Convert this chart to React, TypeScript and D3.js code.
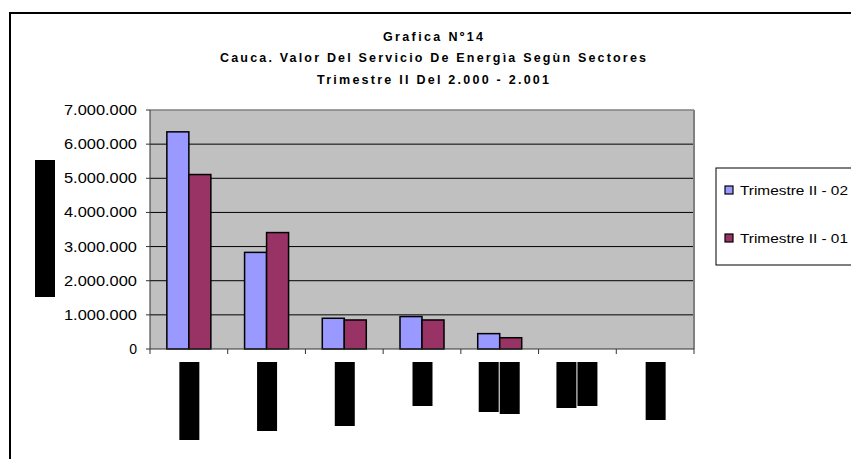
import React from "react";
import * as d3 from "d3";

const categories = ["S1", "S2", "S3", "S4", "S5", "S6", "S7"];
const seriesNames = ["Trimestre II - 02", "Trimestre II - 01"];
const trimestre02 = [6360000, 2830000, 900000, 950000, 450000, 0, 0];
const trimestre01 = [5110000, 3410000, 850000, 850000, 330000, 0, 0];
const yTicks = [0, 1000000, 2000000, 3000000, 4000000, 5000000, 6000000, 7000000];
const titleLines = [
  "Grafica Nº14",
  "Cauca. Valor Del Servicio De Energìa Segùn Sectores",
  "Trimestre II  Del 2.000 - 2.001",
];
// redacted (hidden) category labels: lengths of each rotated text line
const hiddenLabelLines = [[78], [69], [64], [44], [50, 52], [46, 44], [58]];

const colors = ["#9999FF", "#993366"];

export default function App() {
  const W = 851, H = 459;
  const m = { left: 150, right: 694, top: 110, bottom: 349 };
  const x = d3.scaleBand<string>().domain(categories).range([m.left, m.right]).padding(0);
  const y = d3.scaleLinear().domain([0, 7000000]).range([m.bottom, m.top]);
  const barW = 22;
  const fmt = (v: number) => (v === 0 ? "0" : d3.format(",")(v).replace(/,/g, "."));
  const series = [trimestre02, trimestre01];
  const titleWidths = [100, 426, 232];
  const titleY = [41, 62, 84];

  return (
    <svg width={W} height={H} style={{ position: "absolute", left: 0, top: 0, background: "#fff" }}
      fontFamily="'Liberation Sans', Arial, sans-serif">
      <rect x={0} y={0} width={W} height={H} fill="#fff" />
      {/* outer frame */}
      <rect x={10} y={13} width={900} height={500} fill="none" stroke="#000" strokeWidth={2} />
      {/* titles */}
      {titleLines.map((t, i) => (
        <text key={i} x={433} y={titleY[i]} textAnchor="middle" fontSize={12.5} fontWeight="bold"
          textLength={titleWidths[i]} lengthAdjust="spacing" fill="#000">{t}</text>
      ))}
      {/* plot area */}
      <rect x={m.left} y={m.top} width={m.right - m.left} height={m.bottom - m.top} fill="#C0C0C0" />
      {yTicks.slice(1, -1).map((v) => (
        <line key={v} x1={m.left} x2={m.right} y1={y(v)} y2={y(v)} stroke="#000" strokeWidth={1} />
      ))}
      <line x1={m.left} x2={m.right} y1={m.top} y2={m.top} stroke="#808080" strokeWidth={1.5} />
      <line x1={m.right} x2={m.right} y1={m.top} y2={m.bottom} stroke="#808080" strokeWidth={2} />
      {/* bars */}
      {categories.map((c, i) => {
        const cx = (x(c) as number) + x.bandwidth() / 2;
        return series.map((s, k) => {
          const v = s[i];
          if (v <= 0) return null;
          const x0 = cx - barW + k * barW;
          return (
            <rect key={c + k} x={x0} y={y(v)} width={barW} height={y(0) - y(v)}
              fill={colors[k]} stroke="#000" strokeWidth={1.5} />
          );
        });
      })}
      {/* axes */}
      <line x1={m.left} x2={m.left} y1={m.top} y2={m.bottom} stroke="#333" strokeWidth={1} />
      <line x1={m.left} x2={m.right} y1={m.bottom} y2={m.bottom} stroke="#333" strokeWidth={1} />
      {yTicks.map((v) => (
        <g key={v}>
          <line x1={m.left - 4} x2={m.left} y1={y(v)} y2={y(v)} stroke="#333" />
          <text x={137} y={y(v) + 5} textAnchor="end" fontSize={14} fill="#000"
            {...(v > 0 ? { textLength: 73, lengthAdjust: "spacingAndGlyphs" } : {})}>{fmt(v)}</text>
        </g>
      ))}
      {categories.map((c) => (
        <line key={c} x1={x(c) as number} x2={x(c) as number} y1={m.bottom} y2={m.bottom + 5} stroke="#333" />
      ))}
      <line x1={m.right} x2={m.right} y1={m.bottom} y2={m.bottom + 5} stroke="#333" />
      {/* hidden category labels */}
      {categories.map((c, i) => {
        const cx = (x(c) as number) + x.bandwidth() / 2;
        const lines = hiddenLabelLines[i];
        const n = lines.length;
        return lines.map((len, j) => (
          <rect key={c + j} x={n > 1 ? cx - 21 + j * 21 : cx - 9.5} y={362} width={20} height={len} fill="#000" />
        ));
      })}
      {/* hidden y axis title */}
      <rect x={35} y={160} width={20} height={137} fill="#000" />
      {/* legend */}
      <rect x={716} y={168} width={200} height={97} fill="#fff" stroke="#000" strokeWidth={1} />
      {seriesNames.map((s, k) => (
        <g key={s}>
          <rect x={725} y={186 + k * 48} width={8} height={8} fill={colors[k]} stroke="#000" strokeWidth={1.2} />
          <text x={740} y={194.5 + k * 48} fontSize={13} fill="#000" textLength={108}
            lengthAdjust="spacingAndGlyphs">{s}</text>
        </g>
      ))}
    </svg>
  );
}
